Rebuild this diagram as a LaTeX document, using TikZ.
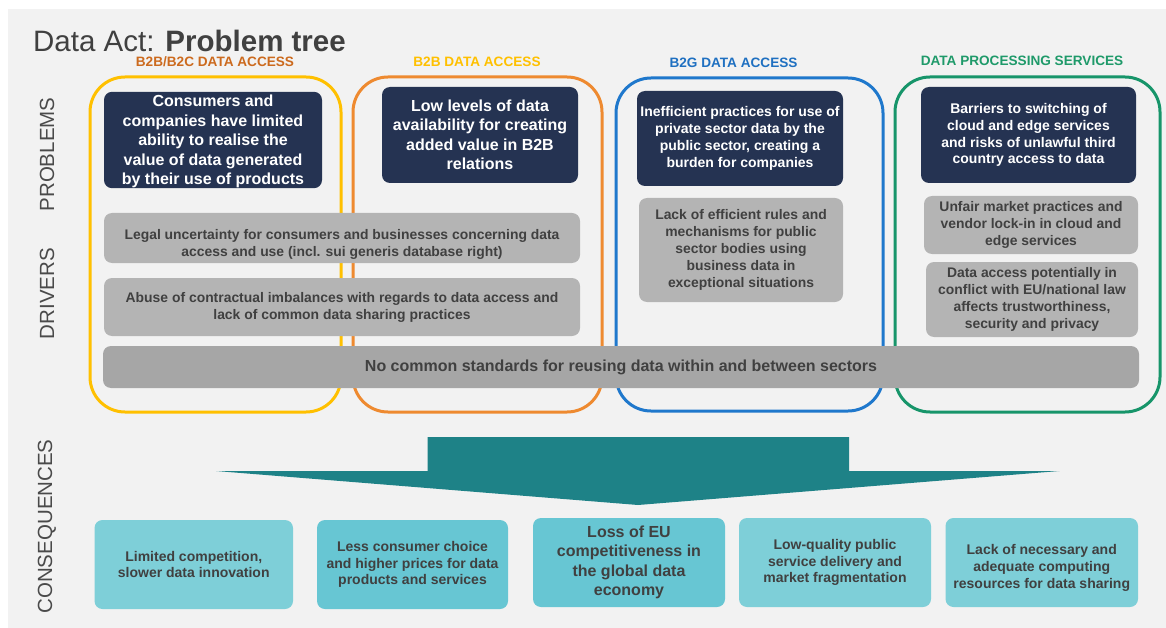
\documentclass[tikz,border=0pt]{standalone}
\usepackage{fontspec}
\setmainfont{Liberation Sans}
\usetikzlibrary{positioning}
\definecolor{bggray}{HTML}{F2F2F2}
\definecolor{navy}{HTML}{253352}
\definecolor{drvgray}{HTML}{B4B4B4}
\definecolor{stdgray}{HTML}{A6A6A6}
\definecolor{txtgray}{HTML}{404040}
\definecolor{sidegray}{HTML}{4A4A4A}
\definecolor{yellowF}{HTML}{FFC000}
\definecolor{orangeF}{HTML}{EE8A30}
\definecolor{blueF}{HTML}{1F78CC}
\definecolor{greenF}{HTML}{17956A}
\definecolor{orangeT}{HTML}{CC6A1E}
\definecolor{blueT}{HTML}{1F70C1}
\definecolor{greenT}{HTML}{1F9A6A}
\definecolor{tealA}{HTML}{1E8287}
\definecolor{consL}{HTML}{7ECFD8}
\definecolor{consD}{HTML}{67C6D3}
% taller first line, pushes the text of a box down
\newcommand{\droptext}[1]{\rule{0pt}{#1}}

\begin{document}
\begin{tikzpicture}[x=1pt, y=-1pt]
    \tikzset{
        probbox/.style={fill=navy, rounded corners=8pt, text=white, align=center, inner sep=0pt},
        drvbox/.style={fill=drvgray, rounded corners=8pt, text=txtgray, align=center, inner sep=0pt,
                       font=\bfseries\fontsize{13.9}{17}\selectfont},
        consbox/.style={rounded corners=8pt, text=txtgray, align=center, inner sep=0pt,
                        font=\bfseries\fontsize{14}{16.8}\selectfont},
        colframe/.style={line width=3pt, rounded corners=35pt},
        sidelabel/.style={rotate=90, text=sidegray, font=\fontsize{20.5}{24}\selectfont, inner sep=0pt},
        headlabel/.style={font=\bfseries\fontsize{13.6}{16}\selectfont, inner sep=0pt}
    }
    \useasboundingbox (0,0) rectangle (1166,628);
    % BACKGROUND
    \fill[white] (0,0) rectangle (1166,628);
    \fill[bggray] (8,9) rectangle (1166,628);
    % TITLE
    \node[anchor=base west, inner sep=0pt, text=txtgray, font=\fontsize{29.5}{34}\selectfont] (title) at (33,52) {Data Act: \textbf{Problem tree}};
    % SIDE LABELS
    \node[sidelabel] (problems) at (47,154.5) {PROBLEMS};
    \node[sidelabel] (drivers) at (47,293.5) {DRIVERS};
    \node[sidelabel] (consequences) at (47,526.5) {CONSEQUENCES};
    % COLUMN FRAMES
    \draw[colframe, yellowF] (90,77) rectangle (341,412);
    \draw[colframe, orangeF] (353,77) rectangle (602,412);
    \draw[colframe, blueF] (616,78) rectangle (883,411);
    \draw[colframe, greenF] (895,77) rectangle (1160,412);
    % COLUMN HEADINGS
    \node[headlabel, text=orangeT] (hb2c) at (215,62) {B2B/B2C DATA ACCESS};
    \node[headlabel, text=yellowF] (hb2b) at (477,62) {B2B DATA ACCESS};
    \node[headlabel, text=blueT] (hb2g) at (733.5,63) {B2G DATA ACCESS};
    \node[headlabel, text=greenT] (hdps) at (1022,61) {DATA PROCESSING SERVICES};
    % PROBLEMS
    \node[probbox, minimum width=218pt, minimum height=96pt, font=\bfseries\fontsize{16}{19.5}\selectfont] (prob1) at (213,140)
        {\droptext{15pt}Consumers and\\companies have limited\\ability to realise the\\value of data generated\\by their use of products};
    \node[probbox, minimum width=196pt, minimum height=96pt, font=\bfseries\fontsize{16}{19.5}\selectfont] (prob2) at (480,135)
        {Low levels of data\\availability for creating\\added value in B2B\\relations};
    \node[probbox, minimum width=206pt, minimum height=95pt, font=\bfseries\fontsize{14}{16.8}\selectfont] (prob3) at (740,138.5)
        {Inefficient practices for use of\\private sector data by the\\public sector, creating a\\burden for companies};
    \node[probbox, minimum width=215pt, minimum height=96pt, font=\bfseries\fontsize{14}{16.8}\selectfont] (prob4) at (1028.5,135)
        {Barriers to switching of\\cloud and edge services\\and risks of unlawful third\\country access to data};
    % DRIVERS
    \node[drvbox, minimum width=476pt, minimum height=50pt] (drv1) at (342,238)
        {\droptext{22pt}Legal uncertainty for consumers and businesses concerning data\\access and use (incl. sui generis database right)};
    \node[drvbox, minimum width=476pt, minimum height=58pt] (drv2) at (342,307)
        {Abuse of contractual imbalances with regards to data access and\\lack of common data sharing practices};
    \node[drvbox, minimum width=204pt, minimum height=104pt] (drv3) at (741,250)
        {Lack of efficient rules and\\mechanisms for public\\sector bodies using\\business data in\\exceptional situations};
    \node[drvbox, minimum width=214pt, minimum height=58pt] (drv4) at (1031,225)
        {Unfair market practices and\\vendor lock-in in cloud and\\edge services};
    \node[drvbox, minimum width=212pt, minimum height=75pt] (drv5) at (1032,299.5)
        {Data access potentially in\\conflict with EU/national law\\affects trustworthiness,\\security and privacy};
    \node[drvbox, fill=stdgray, minimum width=1036pt, minimum height=42pt, font=\bfseries\fontsize{16}{19}\selectfont] (drv6) at (621,367)
        {No common standards for reusing data within and between sectors};
    % ARROW
    \fill[tealA] (427.5,437) -- (849,437) -- (849,471) -- (1059.5,471) -- (638,505) coordinate (tip)
        -- (216,471) -- (427.5,471) -- cycle;
    % CONSEQUENCES
    \node[consbox, fill=consL, minimum width=198.5pt, minimum height=89pt] (cons1) at (193.75,564.5)
        {Limited competition,\\slower data innovation};
    \node[consbox, fill=consD, minimum width=191pt, minimum height=89pt] (cons2) at (412.5,564.5)
        {Less consumer choice\\and higher prices for data\\products and services};
    \node[consbox, fill=consD, minimum width=192pt, minimum height=89pt, font=\bfseries\fontsize{16}{19.5}\selectfont] (cons3) at (629,562.5)
        {Loss of EU\\competitiveness in\\the global data\\economy};
    \node[consbox, fill=consL, minimum width=192pt, minimum height=89pt] (cons4) at (835,562.5)
        {Low-quality public\\service delivery and\\market fragmentation};
    \node[consbox, fill=consL, minimum width=192.5pt, minimum height=89pt] (cons5) at (1041.75,562.5)
        {\droptext{21pt}Lack of necessary and\\adequate computing\\resources for data sharing};
\end{tikzpicture}
\end{document}
